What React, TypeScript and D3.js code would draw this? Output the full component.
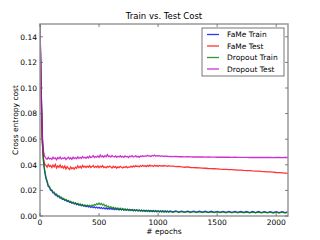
import React, { useRef, useEffect } from 'react';
import * as d3 from 'd3';

// epochs: every 10 up to 1100, then every 25 up to 2100
const epochs: number[] = [...d3.range(0, 1101, 10), ...d3.range(1125, 2101, 25)];

// costs in thousandths (x 1e-3)
const fameTrain = [
  150, 100, 60, 42, 34.5, 29.5, 26.6, 23.0, 22.4, 20.1,
  19.8, 18.1, 17.9, 16.4, 16.5, 15.1, 15.3, 14.0, 14.2, 12.9,
  13.3, 12.1, 12.5, 11.4, 11.8, 10.6, 11.1, 10.0, 10.5, 9.4,
  10.0, 8.9, 9.5, 8.4, 9.0, 8.0, 8.6, 7.6, 8.2, 7.3,
  7.9, 7.0, 7.6, 6.7, 7.4, 6.5, 7.2, 6.3, 7.0, 6.1,
  6.8, 6.0, 6.6, 5.7, 6.4, 5.6, 6.3, 5.4, 6.1, 5.3,
  6.0, 5.2, 5.9, 5.0, 5.7, 4.9, 5.6, 4.8, 5.5, 4.7,
  5.4, 4.6, 5.3, 4.5, 5.2, 4.4, 5.1, 4.3, 5.0, 4.2,
  4.9, 4.1, 4.8, 4.0, 4.7, 3.9, 4.6, 3.9, 4.5, 3.8,
  4.4, 3.7, 4.4, 3.6, 4.3, 3.6, 4.2, 3.5, 4.2, 3.5,
  4.1, 3.4, 4.1, 3.4, 4.0, 3.3, 4.0, 3.3, 3.9, 3.2,
  3.9,
  3.2, 3.9, 3.1, 3.8, 3.1, 3.8, 3.0, 3.8, 3.0, 3.7,
  3.0, 3.7, 2.9, 3.7, 2.9, 3.6, 2.9, 3.6, 2.8, 3.6,
  2.8, 3.6, 2.8, 3.5, 2.8, 3.5, 2.7, 3.5, 2.7, 3.5,
  2.7, 3.4, 2.7, 3.4, 2.6, 3.4, 2.6, 3.4, 2.6, 3.3,
];

const fameTest = [
  150, 92, 56, 44, 40.5, 39.6, 38.2, 40.1, 38.7, 39.5,
  37.9, 39.8, 38.4, 40.3, 37.6, 39.2, 38.1, 39.9, 37.8, 38.9,
  37.4, 39.1, 36.8, 38.5, 37.2, 36.4, 38.3, 36.9, 37.8, 36.6,
  38.1, 37.3, 39.2, 37.7, 38.8, 37.5, 39.4, 38.2, 38.9, 37.9,
  39.0, 38.1, 39.3, 37.8, 38.6, 39.5, 37.9, 38.8, 38.0, 39.1,
  37.7, 38.9, 38.2, 39.4, 37.9, 38.5, 37.6, 38.7, 38.1, 39.0,
  38.3, 37.5, 38.9, 38.0, 38.6, 37.4, 38.4, 37.8, 38.8, 38.1,
  37.6, 38.5, 37.9, 38.7, 37.7, 38.3, 38.0, 38.9, 38.2, 39.1,
  38.4, 39.3, 38.6, 39.0, 38.3, 39.4, 38.7, 39.6, 38.9, 39.2,
  38.6, 39.5, 38.8, 39.7, 39.0, 39.3, 38.7, 39.6, 39.1, 39.4,
  38.8, 39.5, 39.0, 39.3, 38.9, 39.4, 39.1, 39.2, 38.8, 39.3,
  39.0,
  38.9, 38.6, 38.8, 38.3, 38.1, 38.3, 37.9, 37.8, 37.7, 37.6,
  37.4, 37.3, 37.1, 37.0, 36.9, 36.8, 36.6, 36.5, 36.4, 36.3,
  36.2, 36.1, 35.9, 35.8, 35.6, 35.5, 35.4, 35.2, 35.1, 35.0,
  34.8, 34.7, 34.5, 34.4, 34.2, 34.0, 33.9, 33.7, 33.5, 33.3,
];

const dropoutTrain = [
  150, 98, 58, 43, 35.5, 30.5, 27.4, 23.9, 23.1, 20.8,
  20.5, 18.7, 18.6, 17.0, 17.2, 15.7, 15.9, 14.5, 14.8, 13.4,
  13.8, 12.5, 13.0, 11.7, 12.2, 11.0, 11.5, 10.3, 10.9, 9.7,
  10.3, 9.2, 9.8, 8.7, 9.4, 8.3, 9.0, 7.9, 8.7, 7.8,
  8.5, 7.6, 8.4, 7.7, 8.6, 7.9, 9.0, 8.4, 9.6, 8.9,
  10.1, 9.0, 9.8, 8.5, 9.2, 7.8, 8.4, 7.1, 7.7, 6.4,
  7.2, 6.0, 6.8, 5.7, 6.5, 5.4, 6.3, 5.1, 6.0, 4.9,
  5.8, 4.7, 5.6, 4.5, 5.4, 4.4, 5.2, 4.2, 5.0, 4.1,
  4.9, 4.0, 4.8, 3.9, 4.6, 3.8, 4.5, 3.7, 4.4, 3.6,
  4.3, 3.5, 4.2, 3.4, 4.1, 3.3, 4.0, 3.3, 3.9, 3.2,
  3.9, 3.1, 3.8, 3.1, 3.8, 3.0, 3.7, 3.0, 3.7, 2.9,
  3.6,
  2.9, 3.6, 2.8, 3.5, 2.8, 3.5, 2.7, 3.4, 2.7, 3.4,
  2.7, 3.4, 2.6, 3.3, 2.6, 3.3, 2.6, 3.3, 2.5, 3.2,
  2.5, 3.2, 2.5, 3.2, 2.5, 3.1, 2.4, 3.1, 2.4, 3.1,
  2.4, 3.1, 2.4, 3.0, 2.3, 3.0, 2.3, 3.0, 2.3, 3.0,
];

const dropoutTest = [
  148, 96, 63, 50, 46.5, 45.2, 44.3, 45.8, 44.6, 45.1,
  44.2, 45.9, 44.8, 45.4, 43.9, 45.6, 44.7, 46.1, 44.5, 45.3,
  44.9, 45.7, 44.1, 45.2, 46.0, 44.6, 45.5, 44.3, 45.9, 44.8,
  45.6, 44.7, 46.2, 45.0, 45.8, 44.9, 46.4, 45.3, 45.9, 45.1,
  46.3, 45.4, 46.8, 45.6, 46.1, 47.2, 45.7, 46.5, 45.9, 46.9,
  45.8, 47.6, 46.2, 46.9, 45.9, 47.1, 46.3, 48.0, 46.4, 46.8,
  46.0, 47.3, 46.5, 46.1, 47.0, 45.9, 46.7, 46.2, 47.1, 46.0,
  46.6, 45.8, 46.9, 46.2, 46.5, 45.7, 46.8, 46.3, 47.2, 46.1,
  46.4, 47.0, 46.2, 46.7, 45.9, 46.8, 46.4, 47.1, 46.5, 46.9,
  46.6, 47.4, 46.8, 47.0, 46.5, 47.3, 46.9, 47.6, 46.7, 47.2,
  46.9, 47.1, 46.6, 47.0, 46.8, 46.5, 46.9, 46.6, 46.7, 46.4,
  46.5,
  46.4, 46.5, 46.3, 46.4, 46.2, 46.3, 46.2, 46.1, 46.2, 46.1,
  46.1, 46.0, 46.1, 46.0, 46.0, 45.9, 46.0, 45.9, 45.9, 45.9,
  45.8, 45.9, 45.8, 45.8, 45.8, 45.8, 45.7, 45.8, 45.7, 45.7,
  45.7, 45.7, 45.7, 45.7, 45.6, 45.7, 45.7, 45.6, 45.7, 45.7,
];

const seriesNames = ['FaMe Train', 'FaMe Test', 'Dropout Train', 'Dropout Test'];
const seriesColors = ['#0000ff', '#ff0000', '#008000', '#bf00bf'];
const seriesValues = [fameTrain, fameTest, dropoutTrain, dropoutTest];

const xTicks = [0, 500, 1000, 1500, 2000];
const yTicks = [0, 0.02, 0.04, 0.06, 0.08, 0.1, 0.12, 0.14];

const font = '"DejaVu Sans", sans-serif';

const Chart: React.FC = () => {
  const svgRef = useRef<SVGSVGElement | null>(null);

  useEffect(() => {
    if (!svgRef.current) return;
    const svg = d3.select(svgRef.current);
    svg.selectAll('*').remove();

    const width = 320;
    const height = 240;
    const margin = { top: 24, right: 32, bottom: 24, left: 40 };
    const innerW = width - margin.left - margin.right;
    const innerH = height - margin.top - margin.bottom;

    const x = d3.scaleLinear().domain([0, 2100]).range([0, innerW]);
    const y = d3.scaleLinear().domain([0, 0.15]).range([innerH, 0]);

    svg.append('rect').attr('width', width).attr('height', height).attr('fill', '#fff');

    const g = svg.append('g').attr('transform', `translate(${margin.left},${margin.top})`);

    g.append('clipPath').attr('id', 'plotclip')
      .append('rect').attr('width', innerW).attr('height', innerH);

    const lines = g.append('g').attr('clip-path', 'url(#plotclip)');
    seriesValues.forEach((vals, si) => {
      const line = d3.line<number>()
        .x((_, i) => x(epochs[i]))
        .y(d => y(d / 1000));
      lines.append('path')
        .datum(vals)
        .attr('d', line)
        .attr('fill', 'none')
        .attr('stroke', seriesColors[si])
        .attr('stroke-opacity', 0.8)
        .attr('stroke-width', 1.3);
    });

    // frame
    g.append('rect')
      .attr('width', innerW).attr('height', innerH)
      .attr('fill', 'none').attr('stroke', '#999').attr('stroke-width', 1.5);

    const tickLen = 3;
    xTicks.forEach(t => {
      const px = x(t);
      g.append('line').attr('x1', px).attr('x2', px).attr('y1', innerH).attr('y2', innerH - tickLen)
        .attr('stroke', '#666').attr('stroke-width', 0.8);
      g.append('line').attr('x1', px).attr('x2', px).attr('y1', 0).attr('y2', tickLen)
        .attr('stroke', '#666').attr('stroke-width', 0.8);
      g.append('text').attr('x', px).attr('y', innerH + 8.5)
        .attr('text-anchor', 'middle').attr('font-size', 7.5).attr('font-family', font)
        .attr('fill', '#000').text(String(t));
    });
    yTicks.forEach(t => {
      const py = y(t);
      g.append('line').attr('x1', 0).attr('x2', tickLen).attr('y1', py).attr('y2', py)
        .attr('stroke', '#666').attr('stroke-width', 0.8);
      g.append('line').attr('x1', innerW).attr('x2', innerW - tickLen).attr('y1', py).attr('y2', py)
        .attr('stroke', '#666').attr('stroke-width', 0.8);
      g.append('text').attr('x', -3).attr('y', py + 2.7)
        .attr('text-anchor', 'end').attr('font-size', 7.5).attr('font-family', font)
        .attr('fill', '#000').text(t.toFixed(2));
    });

    // title and axis labels
    svg.append('text').attr('x', margin.left + innerW / 2).attr('y', 19)
      .attr('text-anchor', 'middle').attr('font-size', 8.5).attr('font-family', font)
      .text('Train vs. Test Cost');
    svg.append('text').attr('x', margin.left + innerW / 2).attr('y', 234)
      .attr('text-anchor', 'middle').attr('font-size', 7.5).attr('font-family', font)
      .text('# epochs');
    svg.append('text')
      .attr('transform', `translate(18,${margin.top + innerH / 2}) rotate(-90)`)
      .attr('text-anchor', 'middle').attr('font-size', 7.5).attr('font-family', font)
      .text('Cross entropy cost');

    // legend
    const legend = svg.append('g').attr('transform', 'translate(202,28)');
    legend.append('rect').attr('width', 82).attr('height', 48)
      .attr('fill', '#fff').attr('stroke', '#555').attr('stroke-width', 0.8);
    seriesNames.forEach((name, i) => {
      const ly = 6.5 + i * 11.5;
      legend.append('line').attr('x1', 5).attr('x2', 17).attr('y1', ly).attr('y2', ly)
        .attr('stroke', seriesColors[i]).attr('stroke-opacity', 0.8).attr('stroke-width', 1.3);
      legend.append('text').attr('x', 25).attr('y', ly + 2.8)
        .attr('font-size', 7.5).attr('font-family', font).text(name);
    });
  }, []);

  return <svg ref={svgRef} width={320} height={240} style={{ display: 'block' }} />;
};

export default function App() {
  return (
    <div style={{ position: 'fixed', left: 0, top: 0 }}>
      <Chart />
    </div>
  );
}
